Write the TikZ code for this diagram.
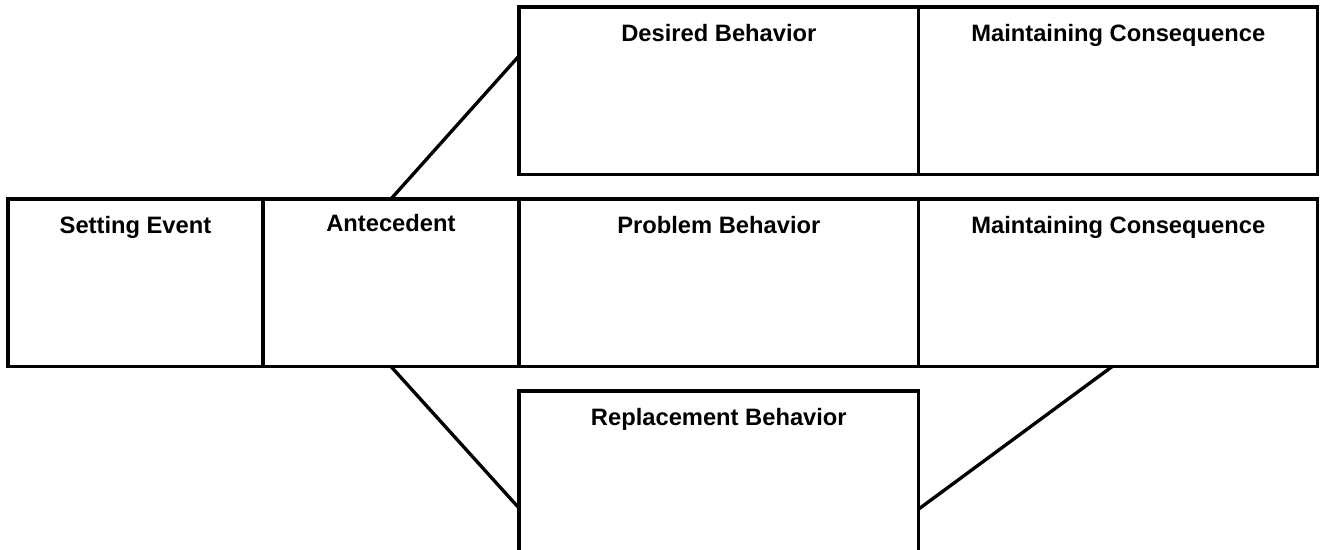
\documentclass[tikz,border=0pt]{standalone}
\usepackage{fontspec}
\setmainfont{Liberation Sans}
\usepackage{tikz}
\usetikzlibrary{positioning}
\newdimen\hdim
\newdimen\gdim
\hdim=3.35cm
\gdim=0.49cm
\tikzstyle{cell}=[
  draw=black,
  line width=1.9pt,
  inner sep=0pt,
  outer sep=0pt,
  minimum height=\hdim,
  rectangle,
]
\tikzstyle{heading}=[
  font={\fontsize{13.5}{16}\selectfont\bfseries},
  inner sep=0pt,
  text height=10pt,
  text depth=3pt,
  anchor=north,
  yshift=-9.5pt,
]
\tikzstyle{link}=[
  draw=black,
  line width=1.9pt,
]
\tikzset{
  x=0.02cm,
  y=-0.02cm,
}
\begin{document}
\begin{tikzpicture}
      \clip (0,0) rectangle (1322,550);
      %% middle row
      \node (setting) [cell, minimum width=5.1cm, anchor=north west,
        label={[heading]north:Setting Event}] at (8,199) {};
      \node (antecedent) [cell, minimum width=5.12cm, right=0pt of setting,
        label={[heading, yshift=1pt]north:Antecedent}] {};
      \node (problem) [cell, minimum width=8cm, right=0pt of antecedent,
        label={[heading]north:Problem Behavior}] {};
      \node (consequence) [cell, minimum width=7.98cm, right=0pt of problem,
        label={[heading]north:Maintaining Consequence}] {};
      %% top row
      \node (desired) [cell, minimum width=8cm, above right=\gdim and 0pt of problem.north west,
        label={[heading]north:Desired Behavior}] {};
      \node (desiredcons) [cell, minimum width=7.98cm, right=0pt of desired,
        label={[heading]north:Maintaining Consequence}] {};
      %% bottom row
      \node (replacement) [cell, minimum width=8cm, below right=\gdim and 0pt of problem.south west,
        label={[heading]north:Replacement Behavior}] {};
      %%
      \draw [link] (antecedent.north) -- ([yshift=-0.98cm]desired.north west);
      \draw [link] (antecedent.south) -- ([yshift=-2.34cm]replacement.north west);
      \draw [link] ([xshift=-0.12cm]consequence.south) -- ([yshift=-2.36cm]replacement.north east);
    \end{tikzpicture}
\end{document}
